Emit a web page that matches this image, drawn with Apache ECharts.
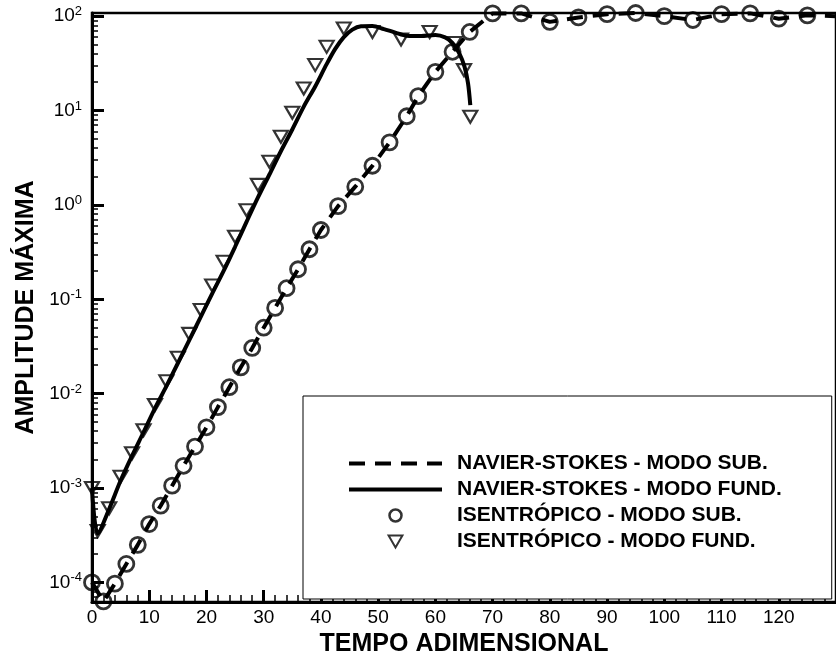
<!DOCTYPE html>
<html>
<head>
<meta charset="utf-8">
<script src="https://cdn.jsdelivr.net/npm/echarts@6/dist/echarts.min.js"></script>
<style>
  html, body { margin: 0; padding: 0; background: #ffffff; }
  #chart { width: 836px; height: 664px; }
</style>
</head>
<body>
<div id="chart"></div>
<script>
// Series names (legend order)
const seriesNames = [
  'NAVIER-STOKES - MODO SUB.',
  'NAVIER-STOKES - MODO FUND.',
  'ISENTRÓPICO - MODO SUB.',
  'ISENTRÓPICO - MODO FUND.'
];

// Navier-Stokes, subharmonic mode (dashed line)
const nsSubT = [0, 2, 4, 6, 8, 10, 12, 14, 16, 18, 20, 22, 24, 26, 28, 30, 32, 34, 36, 38, 40, 43, 46, 49, 52, 55, 57, 60, 63, 66, 70, 75, 80, 85, 90, 95, 100, 105, 110, 115, 120, 125, 130];
const nsSubA = [1.0e-4, 6.3e-5, 9.7e-5, 1.57e-4, 2.5e-4, 4.15e-4, 6.5e-4, 1.06e-3, 1.72e-3, 2.75e-3, 4.4e-3, 7.2e-3, 1.17e-2, 1.9e-2, 3.05e-2, 5.0e-2, 8.1e-2, 0.131, 0.208, 0.339, 0.542, 0.97, 1.56, 2.6, 4.6, 8.7, 14.2, 25.7, 41.9, 68, 107, 107, 87, 97, 105, 108, 100, 91, 105, 107, 94, 102, 100];

// Navier-Stokes, fundamental mode (solid line)
const nsFundT = [0, 1, 3, 5, 7, 9, 11, 13, 15, 17, 19, 21, 23, 25, 27, 29, 31, 33, 35, 37, 39, 41, 42.5, 44, 45.5, 47, 49, 51, 53, 55, 57.5, 60, 61.7, 63, 64.2, 65.1, 65.7, 66.1];
const nsFundA = [1.0e-3, 3.3e-4, 6.0e-4, 1.2e-3, 2.2e-3, 3.9e-3, 7.0e-3, 1.2e-2, 2.1e-2, 3.7e-2, 6.5e-2, 0.115, 0.2, 0.36, 0.66, 1.2, 2.1, 3.7, 6.3, 11, 18, 31, 45, 60, 72, 78, 78.5, 73, 67, 62, 61.5, 63, 59.5, 52, 40, 29, 19.5, 11.4];

// Isentropic, subharmonic mode (circles)
const isoSubT = [0, 2, 4, 6, 8, 10, 12, 14, 16, 18, 20, 22, 24, 26, 28, 30, 32, 34, 36, 38, 40, 43, 46, 49, 52, 55, 57, 60, 63, 66, 70, 75, 80, 85, 90, 95, 100, 105, 110, 115, 120, 125];
const isoSubA = [1.0e-4, 6.3e-5, 9.7e-5, 1.57e-4, 2.5e-4, 4.15e-4, 6.5e-4, 1.06e-3, 1.72e-3, 2.75e-3, 4.4e-3, 7.2e-3, 1.17e-2, 1.9e-2, 3.05e-2, 5.0e-2, 8.1e-2, 0.131, 0.208, 0.339, 0.542, 0.97, 1.56, 2.6, 4.6, 8.7, 14.2, 25.7, 41.9, 68, 107, 107, 87, 97, 105, 108, 100, 91, 105, 107, 94, 102];

// Isentropic, fundamental mode (inverted triangles)
const isoFundT = [0, 1, 3, 5, 7, 9, 11, 13, 15, 17, 19, 21, 23, 25, 27, 29, 31, 33, 35, 37, 39, 41, 44, 49, 54, 59, 63.3, 65, 66.1];
const isoFundA = [1.0e-3, 3.5e-4, 6.1e-4, 1.32e-3, 2.34e-3, 4.1e-3, 7.6e-3, 1.35e-2, 2.4e-2, 4.3e-2, 7.7e-2, 0.14, 0.25, 0.46, 0.88, 1.63, 2.87, 5.27, 9.47, 17.1, 30.3, 47.3, 74, 68, 56.6, 68, 52, 26.8, 8.6];

// Axis ticks
const xTicks = [0, 10, 20, 30, 40, 50, 60, 70, 80, 90, 100, 110, 120];
const yDecades = [1e-4, 1e-3, 1e-2, 1e-1, 1e0, 1e1, 1e2];

const yMin = 6.2e-5, yMax = 108;

// minor log ticks 2..9 inside every decade
const yMinor = [];
[1e-5, 1e-4, 1e-3, 1e-2, 1e-1, 1, 10, 100].forEach(function (d) {
  for (let k = 2; k <= 9; k++) {
    const v = d * k;
    if (v > yMin && v < yMax) yMinor.push(v);
  }
});

const pairs = (xs, ys) => xs.map((x, i) => [x, ys[i]]);

const FONT = '"Liberation Sans", Arial, Helvetica, sans-serif';
const triPath = 'path://M0,0 L12,0 L6,10.4 Z';
const hidden = { color: 'transparent', borderColor: 'transparent', borderWidth: 0, opacity: 0 };

const chart = echarts.init(document.getElementById('chart'), null, { renderer: 'canvas' });

const yAxisBase = {
  type: 'log',
  logBase: 10,
  min: yMin,
  max: yMax,
  splitLine: { show: false },
  minorSplitLine: { show: false }
};

chart.setOption({
  animation: false,
  backgroundColor: '#ffffff',
  grid: {
    left: 92, right: -18, top: 13, bottom: 62,
    show: true, borderColor: '#000', borderWidth: 2.5, backgroundColor: 'transparent'
  },
  legend: {
    orient: 'vertical',
    left: 303, top: 396,
    padding: [57, 50, 47, 44],
    borderColor: '#000', borderWidth: 1, backgroundColor: '#fff',
    itemWidth: 93, itemHeight: 12, itemGap: 5,
    textStyle: { fontFamily: FONT, fontWeight: 'bold', fontSize: 21, color: '#000', lineHeight: 21, padding: [0, 0, 0, 10] },
    selectedMode: false,
    data: [
      { name: seriesNames[0], itemStyle: hidden, lineStyle: { width: 4, type: [16, 10], color: '#000' } },
      { name: seriesNames[1], itemStyle: hidden, lineStyle: { width: 4, type: 'solid', color: '#000' } },
      { name: seriesNames[2], itemStyle: { color: 'transparent', borderColor: '#000', borderWidth: 2.5 } },
      { name: seriesNames[3], itemStyle: { color: 'transparent', borderColor: '#000', borderWidth: 2 } }
    ]
  },
  xAxis: {
    type: 'value',
    min: 0, max: 130, interval: 10,
    name: 'TEMPO ADIMENSIONAL',
    nameLocation: 'middle',
    nameGap: 26,
    nameTextStyle: { fontFamily: FONT, fontWeight: 'bold', fontSize: 25, color: '#000' },
    axisLine: { show: true, onZero: false, lineStyle: { color: '#000', width: 3 } },
    axisTick: { show: true, inside: true, length: 12, lineStyle: { color: '#000', width: 3 } },
    minorTick: { show: true, splitNumber: 5, length: 7, lineStyle: { color: '#000', width: 1.5 } },
    axisLabel: {
      margin: 6, fontFamily: FONT, fontSize: 19, color: '#000',
      customValues: xTicks
    },
    splitLine: { show: false },
    minorSplitLine: { show: false }
  },
  yAxis: [
    Object.assign({}, yAxisBase, {
      name: 'AMPLITUDE MÁXIMA',
      nameLocation: 'middle',
      nameGap: 52,
      nameTextStyle: { fontFamily: FONT, fontWeight: 'bold', fontSize: 25, color: '#000' },
      axisLine: { show: true, lineStyle: { color: '#000', width: 3 } },
      axisTick: { show: true, inside: true, length: 12, customValues: yDecades, lineStyle: { color: '#000', width: 3 } },
      axisLabel: {
        margin: 10,
        customValues: yDecades,
        formatter: function (v) {
          const e = Math.round(Math.log10(v));
          return '{b|10}{s|' + e + '}';
        },
        rich: {
          b: { fontFamily: FONT, fontSize: 19, color: '#000', lineHeight: 22 },
          s: { fontFamily: FONT, fontSize: 13, color: '#000', verticalAlign: 'top', lineHeight: 12 }
        }
      }
    }),
    Object.assign({}, yAxisBase, {
      position: 'left',
      axisLine: { show: false },
      axisTick: { show: true, inside: true, length: 6, customValues: yMinor, lineStyle: { color: '#000', width: 1.5 } },
      axisLabel: { show: false }
    })
  ],
  series: [
    {
      name: seriesNames[0], type: 'line', yAxisIndex: 0,
      data: pairs(nsSubT, nsSubA),
      symbol: 'none', showSymbol: false, clip: true, z: 2,
      itemStyle: { color: '#000' },
      lineStyle: { color: '#000', width: 4, type: [16, 10] }
    },
    {
      name: seriesNames[1], type: 'line', yAxisIndex: 0,
      data: pairs(nsFundT, nsFundA),
      symbol: 'none', showSymbol: false, smooth: 0.3, clip: true, z: 2,
      itemStyle: { color: '#000' },
      lineStyle: { color: '#000', width: 4, type: 'solid' }
    },
    {
      name: seriesNames[2], type: 'scatter', yAxisIndex: 0,
      data: pairs(isoSubT, isoSubA),
      symbol: 'circle', symbolSize: 15, clip: false, z: 3,
      itemStyle: { color: 'transparent', borderColor: '#000', borderWidth: 2.8 }
    },
    {
      name: seriesNames[3], type: 'scatter', yAxisIndex: 0,
      data: pairs(isoFundT, isoFundA),
      symbol: triPath, symbolSize: [14, 12], clip: false, z: 3,
      itemStyle: { color: 'transparent', borderColor: '#000', borderWidth: 2.2 }
    }
  ]
});
</script>
</body>
</html>
